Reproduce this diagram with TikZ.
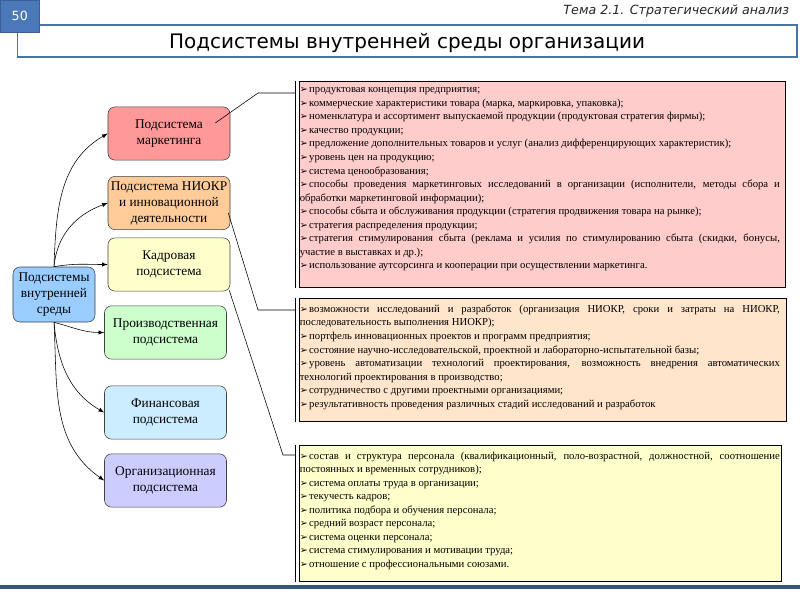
\documentclass[tikz,border=0pt]{standalone}
\usepackage{fontspec}
\setmainfont{Liberation Serif}
\newfontfamily\headfont{DejaVu Sans}
\newfontfamily\markfont{DejaVu Sans}
\usetikzlibrary{positioning}

\definecolor{rootblue}{HTML}{99CCFF}
\definecolor{markred}{HTML}{FF9999}
\definecolor{niokrorange}{HTML}{FFCC99}
\definecolor{kadryellow}{HTML}{FFFFCC}
\definecolor{prodgreen}{HTML}{CCFFCC}
\definecolor{finblue}{HTML}{CCECFF}
\definecolor{orgviolet}{HTML}{CCCCFF}
\definecolor{pinkbox}{HTML}{FFCCCC}
\definecolor{peachbox}{HTML}{FFE5CC}
\definecolor{yellowbox}{HTML}{FFFFCC}
\definecolor{framecol}{HTML}{4A73A8}
\definecolor{squarefill}{HTML}{4A78B8}
\definecolor{squareedge}{HTML}{3A5F91}
\definecolor{barcol}{HTML}{34557E}

\newcommand{\pnt}{{\markfont\fontsize{6.8}{5}\selectfont ➢}\hspace{1pt}}

\begin{document}
\begin{tikzpicture}[x=0.025cm, y=0.025cm,
   sub/.style={draw=black!75, rounded corners=5pt, minimum width=3.05cm,
      minimum height=1.33cm, align=center, inner sep=1pt,
      font=\fontsize{9.5}{11.3}\selectfont},
   infobox/.style={draw=black, line width=0.6pt, anchor=north west, inner sep=0pt},
   info/.style={anchor=north west, inner sep=0pt, text width=12cm, align=justify,
      font=\fontsize{7.6}{9.62}\selectfont,
      execute at begin node={\hyphenpenalty=10000 \exhyphenpenalty=10000 \tolerance=9999}},
   bar/.style={line width=1pt},
   link/.style={-latex, thin},
   callout/.style={thin}]

   \useasboundingbox (0,0) rectangle (800,-600);

   % header
   \draw[framecol, line width=1.3pt] (17.5,-25) rectangle (797,-57);
   \node[draw=squareedge, fill=squarefill, minimum width=0.975cm, minimum height=0.8cm,
      anchor=north west, inner sep=0pt, text=white,
      font=\headfont\fontsize{9}{9}\selectfont] (num) at (0,0) {50};
   \node[anchor=east, text=black!85, font=\headfont\itshape\fontsize{9}{9}\selectfont]
      (theme) at (794,-11) {Тема 2.1. Стратегический анализ};
   \node[font=\headfont\fontsize{14.2}{14.2}\selectfont] (title) at (407,-43)
      {Подсистемы внутренней среды организации};
   \fill[barcol] (0,-585) rectangle (800,-589);

   % subsystems
   \node[sub, fill=rootblue, minimum width=2.05cm, minimum height=1.375cm] (root)
      at (54,-294.5) {Подсистемы\\внутренней\\среды};
   \node[sub, fill=markred] (mark) at (169,-133.5) {Подсистема\\маркетинга};
   \node[sub, fill=niokrorange] (niokr) at (169,-203) {Подсистема НИОКР\\и инновационной\\деятельности};
   \node[sub, fill=kadryellow] (kadr) at (169,-264.5) {Кадровая\\подсистема};
   \node[sub, fill=prodgreen] (prod) at (165.5,-332.5) {Производственная\\подсистема};
   \node[sub, fill=finblue] (fin) at (165.5,-412.5) {Финансовая\\подсистема};
   \node[sub, fill=orgviolet] (org) at (165.5,-480.5) {Организационная\\подсистема};

   \draw[link] (root.north) to[out=88, in=210] (mark.west);
   \draw[link] (root.north) to[out=85, in=200] (niokr.west);
   \draw[link] (root.north) to[out=10, in=180] (kadr.west);
   \draw[link] (root.south) to[out=-15, in=180] (prod.west);
   \draw[link] (root.south) to[out=-85, in=150] (fin.west);
   \draw[link] (root.south) to[out=-87, in=145] (org.west);

   % callout boxes
   \node[infobox, fill=pinkbox, minimum width=12.15cm, minimum height=5.15cm] (mbox) at (299,-81) {};
   \node[infobox, fill=peachbox, minimum width=12.175cm, minimum height=3.075cm] (nbox) at (299,-298) {};
   \node[infobox, fill=yellowbox, minimum width=12.05cm, minimum height=3.4cm] (kbox) at (299,-445) {};

   \coordinate (mbar) at ([xshift=-2.5pt]mbox.north west);
   \coordinate (nbar) at ([xshift=-2.5pt]nbox.north west);
   \coordinate (kbar) at ([xshift=-2.5pt]kbox.north west);
   \draw[bar] (mbar) -- ([xshift=-2.5pt]mbox.south west);
   \draw[bar] (nbar) -- ([xshift=-2.5pt]nbox.south west);
   \draw[bar] (kbar) -- ([xshift=-2.5pt]kbox.south west);

   \coordinate (mtail) at ([shift={(-15,10.5)}]mark.east);
   \coordinate (ntail) at ([shift={(-2,-10)}]niokr.east);
   \coordinate (ktail) at ([shift={(-1,1)}]kadr.south east);
   \coordinate (mbend) at (258,-93);
   \coordinate (nbend) at (258,-310);
   \coordinate (kbend) at (283,-455);
   \draw[callout] (mtail) -- (mbend) -- (mbend -| mbar);
   \draw[callout] (ntail) -- (nbend) -- (nbend -| nbar);
   \draw[callout] (ktail) -- (kbend) -- (kbend -| kbar);

   \node[info] (mtext) at (299.5,-87.5) {%
      \pnt продуктовая концепция предприятия;\par
      \pnt коммерческие характеристики товара (марка, маркировка, упаковка);\par
      \pnt номенклатура и ассортимент выпускаемой продукции (продуктовая стратегия фирмы);\par
      \pnt качество продукции;\par
      \pnt предложение дополнительных товаров и услуг (анализ дифференцирующих характеристик);\par
      \pnt уровень цен на продукцию;\par
      \pnt система ценообразования;\par
      \pnt способы проведения маркетинговых исследований в организации (исполнители, методы сбора и\linebreak
      обработки маркетинговой информации);\par
      \pnt способы сбыта и обслуживания продукции (стратегия продвижения товара на рынке);\par
      \pnt стратегия распределения продукции;\par
      \pnt стратегия стимулирования сбыта (реклама и усилия по стимулированию сбыта (скидки, бонусы,\linebreak
      участие в выставках и др.);\par
      \pnt использование аутсорсинга и кооперации при осуществлении маркетинга.};

   \node[info] (ntext) at (299.5,-304.5) {%
      \pnt возможности исследований и разработок (организация НИОКР, сроки и затраты на НИОКР,\linebreak
      последовательность выполнения НИОКР);\par
      \pnt портфель инновационных проектов и программ предприятия;\par
      \pnt состояние научно-исследовательской, проектной и лабораторно-испытательной базы;\par
      \pnt уровень автоматизации технологий проектирования, возможность внедрения автоматических\linebreak
      технологий проектирования в производство;\par
      \pnt сотрудничество с другими проектными организациями;\par
      \pnt результативность проведения различных стадий исследований и разработок};

   \node[info] (ktext) at (299.5,-451.5) {%
      \pnt состав и структура персонала (квалификационный, поло-возрастной, должностной, соотношение\linebreak
      постоянных и временных сотрудников);\par
      \pnt система оплаты труда в организации;\par
      \pnt текучесть кадров;\par
      \pnt политика подбора и обучения персонала;\par
      \pnt средний возраст персонала;\par
      \pnt система оценки персонала;\par
      \pnt система стимулирования и мотивации труда;\par
      \pnt отношение с профессиональными союзами.};
 \end{tikzpicture}
\end{document}
